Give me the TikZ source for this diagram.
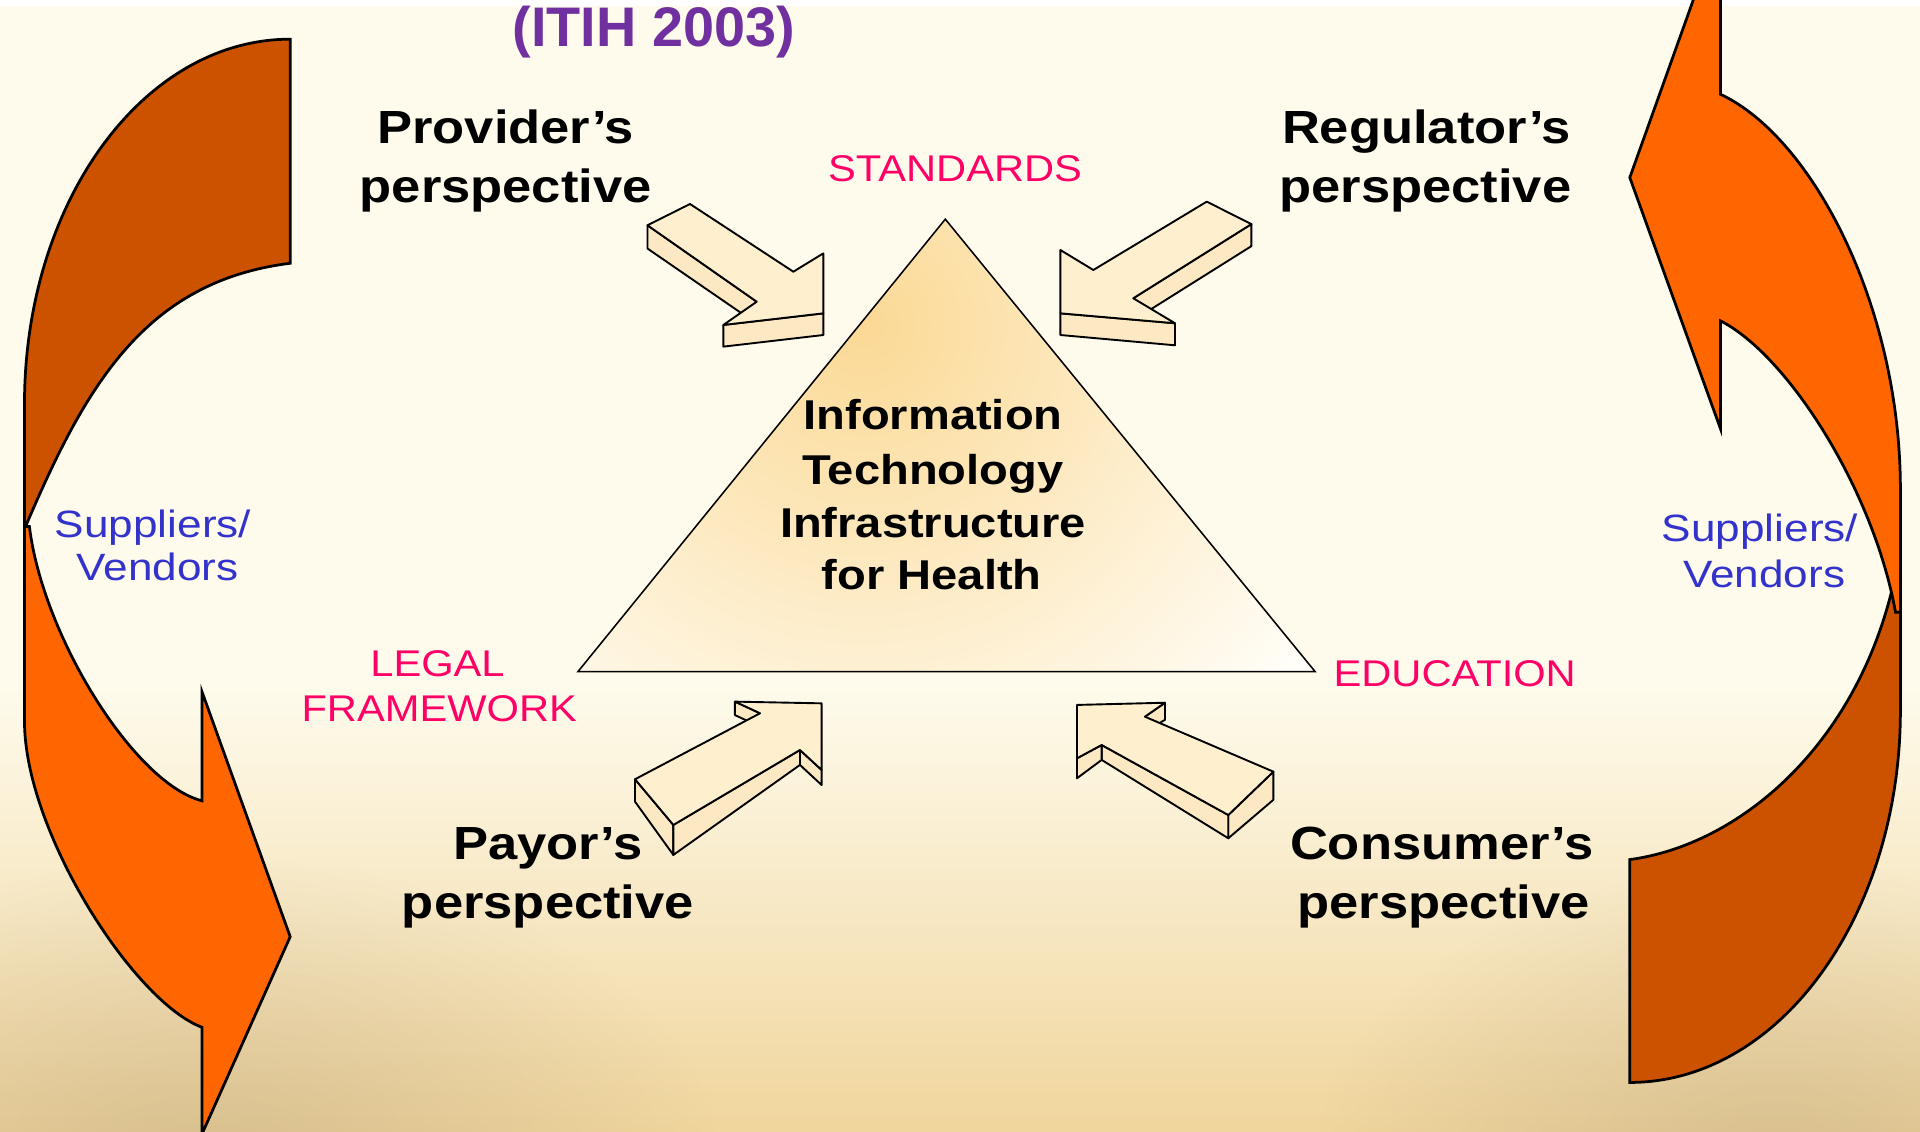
\documentclass[tikz,border=0pt]{standalone}
\usepackage{fontspec}
\setmainfont{Liberation Sans}
\newfontfamily\blackfont[FakeStretch=1.13]{Liberation Sans}
\newfontfamily\trifont[FakeStretch=1.13]{Liberation Sans}
\newfontfamily\pinkfont[FakeStretch=1.12]{Liberation Sans}
\newfontfamily\bluefont[FakeStretch=1.16]{Liberation Sans}
\usetikzlibrary{fadings}
\tikzfading[name=softglow, inner color=transparent!0, outer color=transparent!100]
\definecolor{bgcream}{HTML}{FEFBEC}
\definecolor{bgtan}{HTML}{F0D59C}
\definecolor{ghost}{HTML}{B8A27C}
\definecolor{darkorange}{HTML}{CC5200}
\definecolor{brightorange}{HTML}{FF6600}
\definecolor{arrowcream}{HTML}{FEEFCF}
\definecolor{arrowside}{HTML}{FCE9C4}
\definecolor{pinktxt}{HTML}{FF0066}
\definecolor{bluetxt}{HTML}{3333CC}
\definecolor{purpletxt}{HTML}{7030A0}
\definecolor{triorange}{HTML}{FBD995}
\definecolor{triwhite}{HTML}{FFFEF8}
\tikzset{
  band/.style={draw=black, line width=1.6pt, line join=miter},
  blk/.style={draw=black, line width=1.1pt, line join=round, fill=arrowcream},
  sideface/.style={blk, fill=arrowside},
  lbl/.style={anchor=base, inner sep=0pt},
  blacklbl/.style={lbl, text=black, font=\blackfont\bfseries\fontsize{27}{32}\selectfont},
  trilbl/.style={lbl, text=black, font=\trifont\bfseries\fontsize{24.2}{29}\selectfont},
  pinklbl/.style={lbl, text=pinktxt, font=\pinkfont\fontsize{21.6}{26}\selectfont},
  bluelbl/.style={lbl, text=bluetxt, font=\bluefont\fontsize{22.1}{26}\selectfont},
}
\begin{document}
\begin{tikzpicture}[x=0.025cm,y=-0.025cm]
\useasboundingbox (0,0) rectangle (1568,924);
\clip (0,0) rectangle (1568,924);
% background
\fill[bgcream] (0,0) rectangle (1568,924);
\shade[top color=bgcream, bottom color=bgtan] (0,560) rectangle (1568,925);
\fill[ghost, opacity=0.45, path fading=softglow] (170,960) ellipse (420 and 260);
\fill[ghost, opacity=0.45, path fading=softglow] (1450,965) ellipse (380 and 260);
\fill[white] (0,0) rectangle (1568,4.5);
% left curved arrow
\path[band, fill=darkorange] (237,32) .. controls (117,32) and (20,165) .. (20,330) -- (20,432)
  .. controls (69,317) and (117,230) .. (237,215) -- cycle;
\path[band, fill=brightorange] (20,430) -- (20,589) .. controls (20,679) and (109,818) .. (165,839)
  -- (165,926) -- (237,765) -- (165,565) -- (165,654)
  .. controls (110,640) and (35,520) .. (24,430) -- cycle;
% right curved arrow
\path[band, fill=darkorange] (1552,480) -- (1552,580) .. controls (1552,748) and (1453,884) .. (1331,884)
  -- (1331,702) .. controls (1420,690) and (1515,610) .. (1546,478) -- cycle;
\path[band, fill=brightorange] (1405,77) -- (1405,-62) -- (1331,145) -- (1405,350) -- (1405,262)
  .. controls (1460,290) and (1530,400) .. (1548,500) -- (1552,500) -- (1552,400)
  .. controls (1552,250) and (1480,112) .. (1405,77) -- cycle;
% triangle
\coordinate (apex) at (772,179);
\coordinate (bl) at (472,548.5);
\coordinate (br) at (1074,548.5);
\fill[triwhite] (apex) -- (bl) -- (br) -- cycle;
\begin{scope}
  \clip (apex) -- (bl) -- (br) -- cycle;
  \shade[inner color=triorange, outer color=triwhite] (705,265) circle (450);
\end{scope}
\draw[black, line width=0.9pt, line join=miter] (apex) -- (bl) -- (br) -- cycle;
% provider arrow
\path[sideface] (528.8,184) -- (618,246.4) -- (618,264.4) -- (528.8,203) -- cycle;
\path[sideface] (590.7,265.4) -- (672.4,255.9) -- (672.4,273.6) -- (590.7,283.1) -- cycle;
\path[blk] (563.5,166.6) -- (528.8,184) -- (618,246.4) -- (590.7,265.4) -- (672.4,255.9) -- (672.4,206.9) -- (647.9,221.9) -- cycle;
% regulator arrow
\path[sideface] (1022,183) -- (925.5,243.6) -- (925.5,261.6) -- (1022,201) -- cycle;
\path[sideface] (959.6,264) -- (866,255.9) -- (866,273.6) -- (959.6,282) -- cycle;
\path[blk] (985.5,164.7) -- (1022,183) -- (925.5,243.6) -- (959.6,264) -- (866,255.9) -- (866,204.2) -- (892.9,220.5) -- cycle;
% payor arrow
\path[sideface] (518.6,636.4) -- (549.9,673.7) -- (549.9,698.2) -- (518.6,654.7) -- cycle;
\path[sideface] (549.9,673.7) -- (653.3,612.5) -- (653.3,624.7) -- (549.9,698.2) -- cycle;
\path[sideface] (653.3,612.5) -- (671,628.8) -- (671,641.1) -- (653.3,624.7) -- cycle;
\path[sideface] (600.2,573) -- (620.7,582.5) -- (620.7,593.5) -- (600.2,584) -- cycle;
\path[blk] (518.6,636.4) -- (549.9,673.7) -- (653.3,612.5) -- (671,628.8) -- (671,574.4) -- (600.2,573) -- (620.7,582.5) -- cycle;
% consumer arrow
\path[sideface] (1039.9,630.2) -- (1003.1,665.6) -- (1003.1,684.6) -- (1039.9,653.2) -- cycle;
\path[sideface] (1003.1,665.6) -- (899.7,608.4) -- (899.7,620.6) -- (1003.1,684.6) -- cycle;
\path[sideface] (899.7,608.4) -- (879.5,619.3) -- (879.5,635.6) -- (899.7,620.6) -- cycle;
\path[sideface] (951.4,573.9) -- (935,585.3) -- (935,597.3) -- (951.4,587.9) -- cycle;
\path[blk] (1039.9,630.2) -- (1003.1,665.6) -- (899.7,608.4) -- (879.5,619.3) -- (879.5,575.7) -- (951.4,573.9) -- (935,585.3) -- cycle;
% texts
\node[lbl, text=purpletxt, font=\bfseries\fontsize{32.4}{38}\selectfont] (itih) at (534,38) {(ITIH 2003)};
\node[blacklbl] (prov1) at (413,117) {Provider’s};
\node[blacklbl] (prov2) at (413,165) {perspective};
\node[blacklbl] (reg1) at (1165,117) {Regulator’s};
\node[blacklbl] (reg2) at (1164,165) {perspective};
\node[blacklbl] (pay1) at (447.5,702.3) {Payor’s};
\node[blacklbl] (pay2) at (447.5,750) {perspective};
\node[blacklbl] (con1) at (1177.5,702.3) {Consumer’s};
\node[blacklbl] (con2) at (1179,750) {perspective};
\node[trilbl] (tri1) at (762,351) {Information};
\node[trilbl] (tri2) at (762,396) {Technology};
\node[trilbl] (tri3) at (762,439) {Infrastructure};
\node[trilbl] (tri4) at (761,481.3) {for Health};
\node[pinklbl] (std) at (780,148) {STANDARDS};
\node[pinklbl] (legal1) at (357.3,552.6) {LEGAL};
\node[pinklbl] (legal2) at (358.7,589.4) {FRAMEWORK};
\node[pinklbl] (edu) at (1188,560.8) {EDUCATION};
\node[bluelbl] (supL1) at (125,439) {Suppliers/};
\node[bluelbl] (supL2) at (128.6,474.3) {Vendors};
\node[bluelbl] (supR1) at (1437.3,441.9) {Suppliers/};
\node[bluelbl] (supR2) at (1440.7,480.2) {Vendors};
\end{tikzpicture}
\end{document}
